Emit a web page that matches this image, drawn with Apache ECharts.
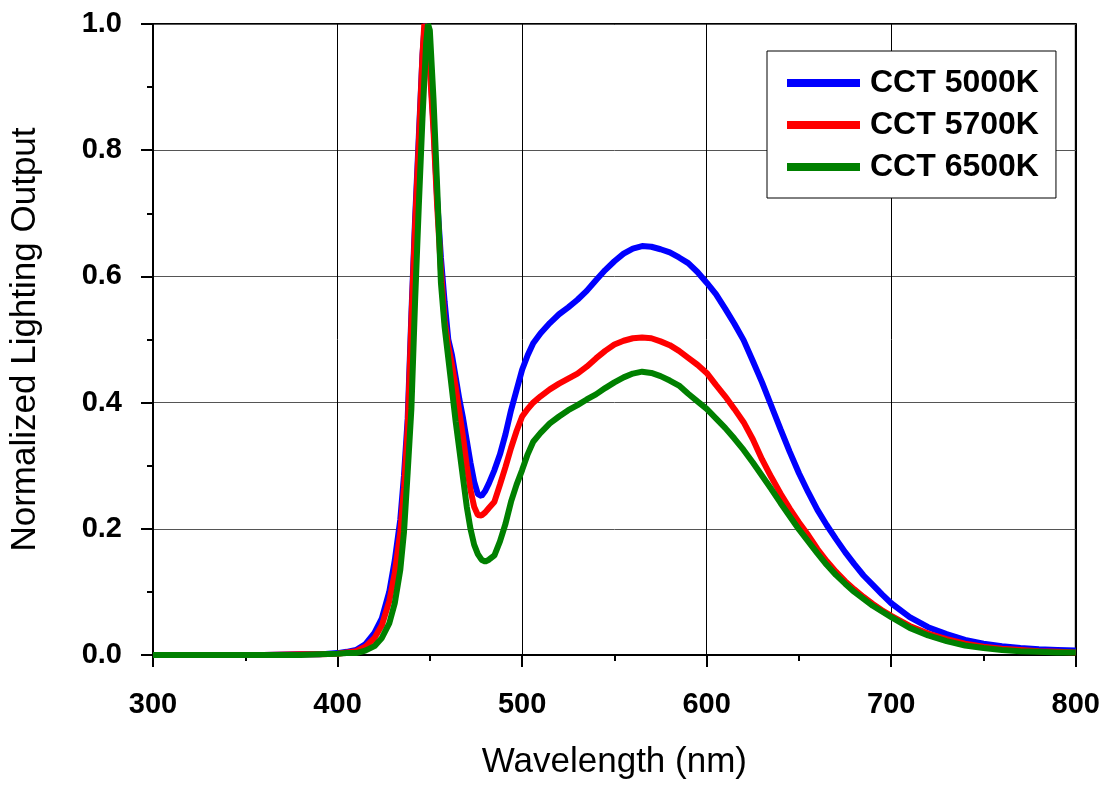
<!DOCTYPE html>
<html>
<head>
<meta charset="utf-8">
<script src="https://cdn.jsdelivr.net/npm/echarts@6/dist/echarts.min.js"></script>
<style>
html,body{margin:0;padding:0;background:#fff;}
#chart{width:1103px;height:785px;}
</style>
</head>
<body>
<div id="chart"></div>
<script>
const wavelengths = [300,320,340,360,380,390,400,405,410,415,420,424,428,431,434,436,438,440,442,444,446,447,448,449,450,452,454,456,458,460,462,464,466,468,470,472,474,476,478,480,482,485,488,491,494,497,500,503,506,510,515,520,525,530,535,540,545,550,555,560,565,570,575,580,585,590,595,600,605,610,615,620,625,630,635,640,645,650,655,660,665,670,675,680,685,690,695,700,710,720,730,740,750,760,770,780,790,800];

const cct5000 = [0,0,0,0,0.001,0.001,0.003,0.005,0.008,0.017,0.035,0.058,0.1,0.15,0.215,0.285,0.375,0.54,0.69,0.82,0.95,0.99,1.0,0.97,0.94,0.84,0.72,0.63,0.56,0.50,0.475,0.44,0.405,0.375,0.34,0.305,0.275,0.255,0.252,0.26,0.272,0.293,0.318,0.35,0.388,0.42,0.452,0.475,0.494,0.51,0.526,0.54,0.551,0.563,0.577,0.594,0.61,0.624,0.636,0.644,0.648,0.647,0.643,0.638,0.63,0.621,0.607,0.59,0.572,0.549,0.525,0.499,0.466,0.432,0.395,0.358,0.322,0.288,0.258,0.23,0.206,0.184,0.163,0.144,0.126,0.111,0.096,0.082,0.06,0.044,0.033,0.024,0.018,0.014,0.011,0.009,0.008,0.007];

const cct5700 = [0,0,0,0,0.001,0.001,0.002,0.004,0.006,0.013,0.027,0.047,0.085,0.13,0.195,0.265,0.36,0.53,0.68,0.81,0.95,1.0,0.99,0.96,0.93,0.83,0.71,0.61,0.53,0.49,0.46,0.425,0.385,0.345,0.30,0.262,0.235,0.222,0.221,0.226,0.233,0.243,0.27,0.298,0.328,0.355,0.378,0.39,0.4,0.41,0.421,0.43,0.438,0.446,0.457,0.47,0.482,0.492,0.498,0.502,0.503,0.502,0.497,0.491,0.482,0.471,0.46,0.447,0.428,0.41,0.39,0.369,0.342,0.31,0.282,0.256,0.232,0.21,0.19,0.168,0.149,0.132,0.117,0.104,0.092,0.081,0.071,0.062,0.046,0.034,0.025,0.018,0.013,0.01,0.008,0.006,0.005,0.004];

const cct6500 = [0,0,0,0,0,0.001,0.002,0.003,0.003,0.007,0.014,0.027,0.05,0.082,0.135,0.195,0.29,0.39,0.56,0.71,0.85,0.91,0.97,1.0,0.99,0.88,0.74,0.59,0.52,0.47,0.42,0.37,0.325,0.28,0.235,0.2,0.175,0.16,0.151,0.148,0.151,0.158,0.18,0.208,0.243,0.27,0.293,0.318,0.338,0.352,0.367,0.378,0.388,0.396,0.405,0.413,0.423,0.432,0.44,0.446,0.449,0.447,0.442,0.435,0.427,0.414,0.402,0.39,0.375,0.36,0.343,0.325,0.305,0.284,0.263,0.241,0.22,0.199,0.18,0.161,0.143,0.127,0.113,0.1,0.089,0.078,0.069,0.06,0.043,0.031,0.022,0.015,0.011,0.008,0.006,0.005,0.004,0.004];

const seriesNames = ['CCT 5000K','CCT 5700K','CCT 6500K'];
const seriesColors = ['#0000FF','#FF0000','#008000'];
const seriesValues = [cct5000, cct5700, cct6500];

const FONT = '"Liberation Sans", Arial, Helvetica, sans-serif';

function pairs(vals){ return wavelengths.map((w,i)=>[w, vals[i]]); }

const chart = echarts.init(document.getElementById('chart'), null, {renderer:'canvas'});
const option = {
  animation: false,
  backgroundColor: '#fff',
  grid: {left:147, right:27, top:24, bottom:130, show:true, borderColor:'#000', borderWidth:2, backgroundColor:'transparent'},
  legend: {
    show: true,
    left: 767, top: 51,
    orient: 'vertical',
    data: seriesNames,
    icon: 'rect',
    itemWidth: 73, itemHeight: 8,
    itemGap: 10,
    padding: [16, 17, 15, 20],
    backgroundColor: '#fff',
    borderColor: '#000', borderWidth: 1,
    textStyle: {fontFamily: FONT, fontSize: 32, fontWeight: 'bold', color: '#000', lineHeight: 31, padding:[0,0,0,5]}
  },
  xAxis: {
    type: 'value', min: 300, max: 800, interval: 100,
    name: 'Wavelength (nm)', nameLocation: 'middle', nameGap: 90,
    nameTextStyle: {fontFamily: FONT, fontSize: 35, color: '#000'},
    axisLine: {show:true, onZero:false, lineStyle: {color:'#000', width:2}},
    axisTick: {show:true, length: 12, lineStyle: {color:'#000', width:2}},
    minorTick: {show:true, splitNumber: 2, length: 6, lineStyle: {color:'#000', width:2}},
    splitLine: {show:true, lineStyle: {color:'#000', width:1}},
    axisLabel: {fontFamily: FONT, fontWeight:'bold', fontSize: 29, color:'#000', margin: 35}
  },
  yAxis: {
    type: 'value', min: 0, max: 1, interval: 0.2,
    name: 'Normalized Lighting Output', nameLocation: 'middle', nameGap: 110,
    nameTextStyle: {fontFamily: FONT, fontSize: 35, color: '#000'},
    axisLine: {show:true, onZero:false, lineStyle: {color:'#000', width:2}},
    axisTick: {show:true, length: 12, lineStyle: {color:'#000', width:2}},
    minorTick: {show:true, splitNumber: 2, length: 6, lineStyle: {color:'#000', width:2}},
    splitLine: {show:true, lineStyle: {color:'#555', width:1}},
    axisLabel: {fontFamily: FONT, fontWeight:'bold', fontSize: 29, color:'#000', margin: 31,
      padding: [0,0,20,0],
      formatter: v => v.toFixed(1)}
  },
  series: seriesNames.map((n,i)=>({
    name: n, type: 'line', data: pairs(seriesValues[i]),
    showSymbol: false, symbol: 'none', smooth: false,
    lineStyle: {color: seriesColors[i], width: 6},
    itemStyle: {color: seriesColors[i]},
    z: 2 + i
  }))
};
chart.setOption(option);
</script>
</body>
</html>
